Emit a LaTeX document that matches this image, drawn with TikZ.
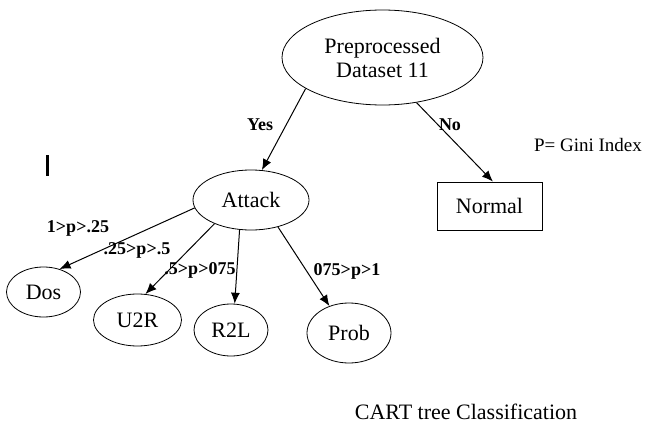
\documentclass[tikz,border=0pt]{standalone}
\usepackage{fontspec}
\setmainfont{Liberation Serif}
\usetikzlibrary{shapes.geometric,arrows.meta}
\begin{document}
\begin{tikzpicture}[x=1pt,y=-1pt,
  oval/.style={draw,ellipse,inner sep=0pt,line width=0.8pt,font=\fontsize{22}{24}\selectfont},
  boxnode/.style={draw,rectangle,inner sep=0pt,line width=0.9pt,font=\fontsize{22}{24}\selectfont},
  edge/.style={draw,line width=1pt,-{Latex[length=11pt,width=9pt]}},
  elabel/.style={font=\bfseries\fontsize{18}{20}\selectfont,inner sep=0pt},
  plain/.style={font=\fontsize{19}{21}\selectfont,inner sep=0pt}]
\useasboundingbox (0,0) rectangle (646,423);
\node[oval,minimum width=201pt,minimum height=95pt,align=center] (root) at (382.5,57.5) {Preprocessed\\Dataset 11};
\node[oval,minimum width=116pt,minimum height=60pt] (attack) at (251,200) {Attack};
\node[boxnode,minimum width=105pt,minimum height=48pt] (normal) at (489.5,206) {Normal};
\node[oval,minimum width=74pt,minimum height=50pt] (dos) at (43.5,292) {Dos};
\node[oval,minimum width=88pt,minimum height=52pt] (u2r) at (137.5,320) {U2R};
\node[oval,minimum width=74pt,minimum height=52pt] (r2l) at (231,330) {R2L};
\node[oval,minimum width=84pt,minimum height=60pt] (prob) at (349,333) {Prob};

\draw[edge] (root.202) -- (attack.70);
\draw[edge] (root.-53) -- (normal.82);
\draw[edge] (attack.188) -- (dos.55);
\draw[edge] (attack.213) -- (u2r.73);
\draw[edge] (attack.249) -- (r2l.82);
\draw[edge] (attack.-45) -- (prob.126);

\node[elabel] (lyes) at (260,125) {Yes};
\node[elabel] (lno) at (450,125) {No};
\node[elabel] (l1) at (78,228) {1>p>.25};
\node[elabel] (l2) at (137,250) {.25>p>.5};
\node[elabel] (l3) at (200,270) {.5>p>075};
\node[elabel] (l4) at (347,271) {075>p>1};
\node[plain] (gini) at (588,145) {P= Gini Index};
\node[font=\fontsize{22}{24}\selectfont,inner sep=0pt] (caption) at (466,412) {CART tree Classification};
\coordinate (bartop) at (47,155);
\coordinate (barbot) at (47,176);
\draw[line width=3pt] (bartop) -- (barbot);
\end{tikzpicture}
\end{document}
